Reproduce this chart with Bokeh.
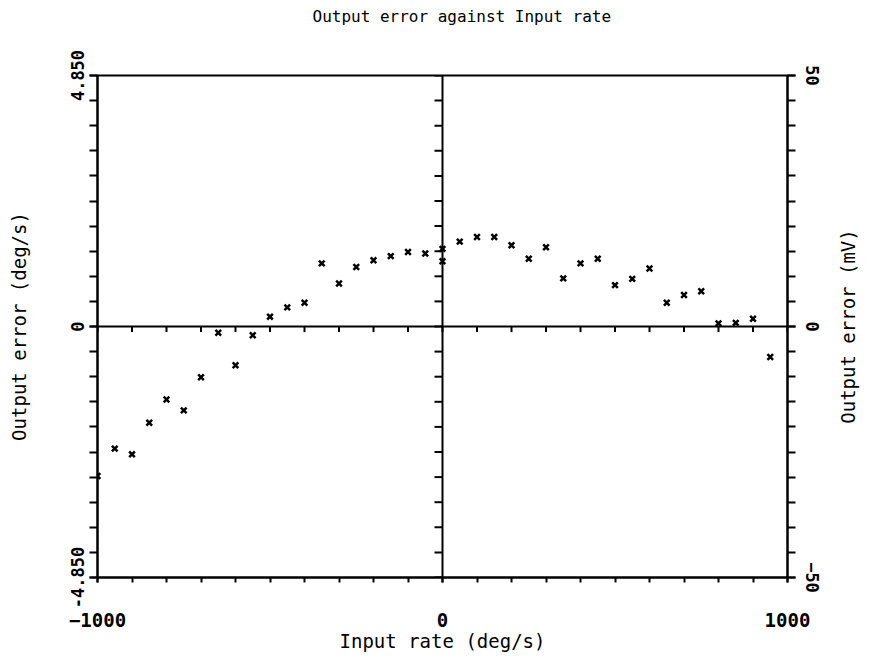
from bokeh.plotting import figure
from bokeh.models import Range1d, LinearAxis, FixedTicker, Span, Title
from bokeh.layouts import row
from bokeh.embed import file_html
from bokeh.resources import INLINE

# Data (input rate deg/s, output error deg/s)
rate = [-1000, -950, -900, -850, -800, -750, -700, -650, -600, -550,
        -500, -450, -400, -350, -300, -250, -200, -150, -100, -50,
        0, 0, 50, 100, 150, 200, 250, 300, 350, 400,
        450, 500, 550, 600, 650, 700, 750, 800, 850, 900, 950]
error = [-2.89, -2.36, -2.47, -1.86, -1.41, -1.62, -0.98, -0.12, -0.75, -0.17,
         0.19, 0.37, 0.46, 1.22, 0.83, 1.15, 1.28, 1.36, 1.44, 1.41,
         1.50, 1.26, 1.64, 1.73, 1.73, 1.57, 1.31, 1.53, 0.93, 1.22,
         1.31, 0.80, 0.92, 1.12, 0.46, 0.61, 0.68, 0.06, 0.07, 0.15, -0.59]

x_major = [-1000, 0, 1000]
x_minor_step = 100
y_lim = 4.85
y_major = [-4.85, 0, 4.85]
y_major_labels = {-4.85: "-4.850", 0: "0", 4.85: "4.850"}
mv_lim = 50
mv_major = [-50, 0, 50]
mv_minor_step = 5

title_text = "Output error against Input rate"
x_label = "Input rate (deg/s)"
y_label = "Output error (deg/s)"
mv_label = "Output error (mV)"

x_minor = [v for v in range(-1000, 1001, x_minor_step)]
y_minor = [round(-y_lim + i * y_lim / 10, 4) for i in range(21)]
mv_minor = [v for v in range(-mv_lim, mv_lim + 1, mv_minor_step)]

FONT = "DejaVu Sans Mono"

p = figure(width=830, height=664, output_backend="svg", toolbar_location=None,
           x_range=Range1d(-1000, 1000), y_range=Range1d(-y_lim, y_lim),
           min_border_left=97, min_border_right=43, min_border_top=0, min_border_bottom=87,
           title=title_text, x_axis_location=None, y_axis_location=None)
p.extra_y_ranges = {"mv": Range1d(-mv_lim, mv_lim)}
p.title.align = "left"
p.title.offset = 215
p.title.text_font = FONT
p.title.text_font_size = "16px"
p.title.text_font_style = "normal"
p.title.text_color = "black"
p.title.standoff = 9
# spacer panel between the title and the frame
p.add_layout(Title(text=" ", text_font_size="16px", standoff=26), "above")

p.xgrid.visible = False
p.ygrid.visible = False
p.outline_line_color = "black"
p.outline_line_width = 2
p.background_fill_color = "white"
p.border_fill_color = "white"


def style(ax, label, tick_size):
    ax.axis_label = label
    ax.axis_label_text_font = FONT
    ax.axis_label_text_font_size = "19px"
    ax.axis_label_text_font_style = "normal"
    ax.axis_label_text_color = "black"
    ax.major_label_text_font = FONT
    ax.major_label_text_font_size = tick_size
    ax.major_label_text_font_style = "bold"
    ax.major_label_text_color = "black"
    ax.axis_line_color = "black"
    ax.axis_line_width = 2
    ax.major_tick_line_color = "black"
    ax.minor_tick_line_color = "black"
    ax.major_tick_line_width = 2
    ax.minor_tick_line_width = 2
    ax.major_tick_in = 0
    ax.minor_tick_in = 0


xb = LinearAxis(ticker=FixedTicker(ticks=x_major, minor_ticks=x_minor))
style(xb, x_label, "19px")
xb.major_tick_out = 5
xb.minor_tick_out = 5
xb.major_label_standoff = 30
xb.axis_label_standoff = 0
p.add_layout(xb, "below")

yl = LinearAxis(ticker=FixedTicker(ticks=y_major, minor_ticks=y_minor))
style(yl, y_label, "17px")
yl.major_tick_out = 8
yl.minor_tick_out = 8
yl.major_label_orientation = "vertical"
yl.major_label_overrides = y_major_labels
yl.major_label_standoff = 6
yl.axis_label_standoff = 38
p.add_layout(yl, "left")

yr = LinearAxis(y_range_name="mv", ticker=FixedTicker(ticks=mv_major, minor_ticks=mv_minor))
style(yr, None, "17px")
yr.major_tick_out = 8
yr.minor_tick_out = 8
yr.major_label_orientation = "vertical"
yr.major_label_standoff = 10
p.add_layout(yr, "right")

# centre cross lines
p.add_layout(Span(location=0, dimension="width", line_color="black", line_width=2))
p.add_layout(Span(location=0, dimension="height", line_color="black", line_width=2))

# small ticks on the centre lines
tick_y = y_lim * 8 / 251
tick_x = 1000 * 8 / 345
p.segment(x0=x_minor, x1=x_minor, y0=[0] * len(x_minor), y1=[-tick_y * 0.7] * len(x_minor),
          line_color="black", line_width=2)
p.segment(x0=[0] * len(y_minor), x1=[-tick_x] * len(y_minor), y0=y_minor, y1=y_minor,
          line_color="black", line_width=2)

p.scatter(rate, error, marker="x", size=8, line_color="black", line_width=2.5)

# narrow companion figure carrying the right-hand axis title (reads bottom-to-top)
p2 = figure(width=40, height=664, output_backend="svg", toolbar_location=None,
            x_range=Range1d(0, 1), y_range=Range1d(-mv_lim, mv_lim),
            min_border_left=36, min_border_right=0, min_border_top=75, min_border_bottom=87,
            x_axis_location=None, y_axis_location=None)
p2.outline_line_color = None
p2.xgrid.visible = False
p2.ygrid.visible = False
ax2 = LinearAxis(ticker=FixedTicker(ticks=[]))
ax2.axis_label = mv_label
ax2.axis_label_text_font = FONT
ax2.axis_label_text_font_size = "19px"
ax2.axis_label_text_font_style = "normal"
ax2.axis_label_text_color = "black"
ax2.axis_line_color = None
ax2.major_tick_line_color = None
ax2.minor_tick_line_color = None
ax2.major_label_text_font_size = "0px"
ax2.major_label_standoff = 0
ax2.axis_label_standoff = 8
p2.add_layout(ax2, "left")

open("out.html", "w").write(file_html(row(p, p2), INLINE))
